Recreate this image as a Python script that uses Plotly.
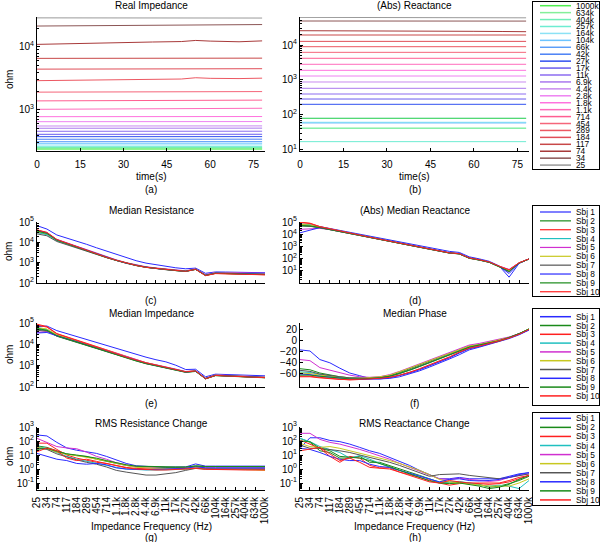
import plotly.graph_objects as go

W, H = 600, 542

# ---------------- data ----------------
time_s = [0, 10, 20, 30, 40, 50, 55, 60, 70, 78]
time_ticks = [0, 15, 30, 45, 60, 75]

freq_labels = ["25", "34", "74", "117", "184", "289", "454", "714", "1.1k", "1.8k",
               "2.8k", "4.4k", "6.9k", "11k", "17k", "27k", "42k", "66k", "104k",
               "164k", "257k", "404k", "634k", "1000k"]
freq_colors = ["#9a9a9a", "#8c5656", "#a83a3a", "#c84848", "#e04e58", "#ec5862",
               "#f5667a", "#ff5e92", "#ff6cbc", "#ff72de", "#ee82f2", "#c88af0",
               "#aa78ee", "#8c6cf0", "#6a5cee", "#3050f0", "#4a80f5", "#5c9ef8",
               "#6cc4ff", "#8ce2f5", "#6eecd2", "#70eeb8", "#84ef9a", "#50ee50"]

# (a) Real impedance over time, one list per frequency (ohm)
real_impedance = [
    [29000, 29000, 29000, 28900, 28900, 28900, 28900, 28800, 28800, 28800],
    [21500, 21600, 21700, 21800, 21900, 22200, 22600, 22500, 22400, 22700],
    [11000, 11300, 11600, 11900, 12000, 12200, 12700, 12400, 12100, 12500],
    [6600, 6600, 6620, 6620, 6630, 6640, 6650, 6640, 6640, 6650],
    [4450, 4460, 4470, 4470, 4480, 4490, 4500, 4500, 4510, 4520],
    [2920, 2960, 3000, 3040, 3060, 3100, 3250, 3180, 3150, 3200],
    [1920, 1925, 1930, 1935, 1940, 1945, 1950, 1950, 1955, 1960],
    [1395, 1400, 1405, 1410, 1412, 1420, 1430, 1428, 1430, 1435],
    [1025, 1030, 1035, 1040, 1045, 1050, 1065, 1060, 1058, 1065],
    [783, 783, 784, 784, 785, 785, 786, 786, 786, 787],
    [652, 652, 652, 653, 653, 653, 654, 654, 654, 655],
    [557, 557, 557, 557, 558, 558, 558, 558, 559, 559],
    [513, 513, 513, 513, 514, 514, 514, 514, 514, 515],
    [459, 459, 459, 459, 459, 460, 460, 460, 460, 460],
    [411, 411, 411, 411, 411, 412, 412, 412, 412, 412],
    [377, 377, 377, 377, 377, 377, 378, 378, 378, 378],
    [343, 343, 343, 343, 343, 343, 344, 344, 344, 344],
    [314, 314, 314, 314, 314, 314, 314, 315, 315, 315],
    [296, 296, 296, 296, 296, 296, 296, 296, 297, 297],
    [278, 278, 278, 278, 278, 278, 278, 278, 278, 279],
    [261, 261, 261, 261, 261, 261, 261, 261, 261, 262],
    [254, 254, 254, 254, 254, 254, 254, 254, 254, 254],
    [247, 247, 247, 247, 247, 247, 247, 247, 247, 247],
    [239, 239, 239, 239, 239, 239, 239, 239, 239, 239],
]

# (b) |Reactance| over time, one list per frequency (ohm)
abs_reactance = [
    [61500, 61400, 61300, 61100, 60900, 60700, 60500, 60300, 60000, 59800],
    [48500, 48500, 48400, 48400, 48400, 48300, 48300, 48300, 48200, 48200],
    [25600, 25600, 25500, 25400, 25200, 25000, 24800, 24600, 24300, 24000],
    [19300, 19300, 19300, 19300, 19300, 19300, 19300, 19300, 19300, 19300],
    [12700, 12700, 12700, 12700, 12700, 12700, 12700, 12700, 12700, 12700],
    [8940, 8940, 8940, 8940, 8940, 8940, 8940, 8940, 8940, 8940],
    [6170, 6170, 6170, 6170, 6170, 6170, 6170, 6170, 6170, 6170],
    [4170, 4170, 4170, 4170, 4170, 4170, 4170, 4170, 4170, 4170],
    [2810, 2810, 2810, 2810, 2810, 2810, 2810, 2810, 2810, 2810],
    [1890, 1890, 1890, 1890, 1890, 1890, 1890, 1890, 1890, 1890],
    [1300, 1300, 1300, 1300, 1300, 1300, 1300, 1300, 1300, 1300],
    [877, 877, 877, 877, 877, 877, 877, 877, 877, 877],
    [579, 579, 579, 579, 579, 579, 579, 579, 579, 579],
    [398, 398, 398, 398, 398, 398, 398, 398, 398, 398],
    [286, 286, 286, 286, 286, 286, 286, 286, 286, 286],
    [202, 202, 202, 202, 202, 202, 202, 202, 202, 202],
    [80, 80, 80, 80, 80, 80, 80, 80, 80, 80],
    [60, 60, 60, 60, 60, 60, 60, 60, 60, 60],
    [60, 60, 60, 60, 60, 60, 60, 60, 60, 60],
    [62, 62, 62, 62, 62, 62, 62, 62, 62, 62],
    [17.3, 17.3, 17.3, 17.3, 17.3, 17.3, 17.3, 17.3, 17.3, 17.3],
    [41.7, 41.7, 41.7, 41.7, 41.7, 41.7, 41.7, 41.7, 41.7, 41.7],
    [42, 42, 42, 42, 42, 42, 42, 42, 42, 42],
    [80.5, 80.5, 80.5, 80.5, 80.5, 80.5, 80.5, 80.5, 80.5, 80.5],
]

subjects = ["Sbj 1", "Sbj 2", "Sbj 3", "Sbj 4", "Sbj 5",
            "Sbj 6", "Sbj 7", "Sbj 8", "Sbj 9", "Sbj 10"]
subject_colors = ["#2a2aff", "#1a8a1a", "#ff2020", "#20c0c0", "#d030d0",
                  "#c8c820", "#555555", "#2a2aff", "#1a8a1a", "#ff2020"]

# (c) median resistance per subject (ohm) vs frequency
median_resistance = [
    [66000, 45000, 23000, 16500, 11500, 8000, 5400, 3700, 2500, 1700, 1250, 950, 780, 650, 560, 500, 540, 300, 350, 345, 340, 335, 330, 320],
    [32000, 25000, 12500, 8400, 5700, 3800, 2600, 1800, 1280, 930, 720, 585, 510, 445, 405, 370, 465, 235, 300, 292, 285, 278, 272, 262],
    [40000, 30000, 13500, 9000, 6000, 4000, 2650, 1820, 1300, 940, 730, 590, 515, 450, 410, 375, 470, 230, 295, 288, 280, 272, 265, 255],
    [30000, 24000, 12000, 8200, 5600, 3800, 2600, 1800, 1290, 950, 740, 600, 525, 460, 420, 385, 480, 245, 315, 308, 300, 293, 287, 275],
    [35000, 28000, 14000, 9400, 6300, 4200, 2850, 1950, 1380, 1000, 775, 630, 550, 480, 440, 400, 500, 260, 330, 325, 320, 315, 310, 300],
    [34000, 27000, 13000, 8800, 5900, 3950, 2700, 1850, 1320, 960, 745, 605, 530, 462, 422, 386, 482, 248, 312, 305, 298, 291, 285, 274],
    [26000, 21000, 11000, 7800, 5400, 3700, 2550, 1770, 1270, 930, 725, 590, 515, 450, 410, 375, 470, 240, 305, 298, 291, 284, 278, 266],
    [38000, 29000, 13200, 8900, 6000, 4000, 2700, 1860, 1320, 955, 740, 600, 525, 457, 417, 380, 479, 242, 310, 302, 295, 288, 282, 270],
    [36000, 27500, 12800, 8600, 5800, 3900, 2650, 1830, 1300, 945, 735, 595, 520, 452, 412, 377, 472, 238, 300, 293, 286, 279, 273, 262],
    [41000, 31000, 13800, 9100, 6100, 4050, 2700, 1850, 1310, 945, 732, 592, 518, 452, 412, 376, 468, 232, 290, 282, 275, 268, 262, 252],
]

# (d) |median reactance| per subject (ohm)
median_reactance = [
    [60000, 56000, 42000, 29000, 20000, 14000, 9800, 6700, 4700, 3300, 2300, 1580, 1100, 770, 540, 390, 320, 140, 95, 60, 25, 3, 40, 95],
    [50000, 46000, 34000, 24000, 16500, 11400, 7900, 5400, 3750, 2600, 1790, 1210, 835, 575, 400, 283, 240, 105, 75, 49, 21, 9, 42, 92],
    [98000, 80000, 42000, 27500, 18200, 12400, 8500, 5750, 3950, 2730, 1880, 1270, 880, 605, 420, 298, 254, 114, 80, 53, 24, 12, 45, 94],
    [70000, 60000, 38000, 26000, 17600, 12100, 8350, 5620, 3900, 2700, 1860, 1260, 870, 600, 417, 295, 251, 112, 79, 52, 23, 11, 44, 93],
    [25000, 26000, 30000, 24000, 17000, 12000, 8300, 5600, 3900, 2700, 1860, 1260, 870, 600, 417, 295, 251, 112, 80, 53, 24, 13, 45, 95],
    [64000, 56000, 37500, 25800, 17500, 12000, 8300, 5600, 3900, 2700, 1860, 1260, 870, 600, 417, 295, 251, 112, 79, 52, 23, 10, 44, 93],
    [48000, 44000, 34000, 24500, 16800, 11700, 8100, 5500, 3800, 2650, 1830, 1240, 855, 590, 410, 290, 247, 110, 77, 50, 22, 8, 43, 92],
    [13000, 22000, 35000, 26000, 17800, 12300, 8450, 5700, 3950, 2740, 1880, 1275, 880, 607, 422, 298, 254, 114, 80, 53, 24, 6, 42, 94],
    [52000, 47000, 35000, 24500, 16900, 11700, 8100, 5500, 3800, 2640, 1820, 1230, 850, 585, 407, 288, 245, 108, 77, 50, 22, 9, 43, 92],
    [90000, 75000, 41000, 27000, 18000, 12300, 8450, 5700, 3920, 2710, 1870, 1265, 875, 602, 418, 296, 252, 113, 80, 53, 24, 12, 45, 94],
]

# (e) median impedance magnitude per subject (ohm)
median_impedance = [
    [68000, 72000, 44000, 32000, 23500, 17000, 12300, 8800, 6300, 4450, 3300, 2500, 1900, 1510, 1050, 660, 680, 300, 400, 385, 370, 355, 345, 335],
    [52000, 44000, 24000, 17500, 12500, 9000, 6400, 4550, 3250, 2250, 1650, 1230, 980, 800, 620, 485, 535, 240, 340, 325, 310, 296, 283, 270],
    [88000, 68000, 32000, 22500, 15500, 10800, 7500, 5300, 3700, 2550, 1850, 1370, 1080, 870, 670, 520, 565, 245, 350, 333, 318, 303, 289, 276],
    [58000, 50000, 27000, 19500, 13800, 9800, 6950, 4930, 3500, 2420, 1760, 1310, 1040, 845, 657, 512, 560, 252, 357, 341, 326, 311, 297, 284],
    [36000, 40000, 26000, 19800, 14200, 10200, 7300, 5200, 3700, 2560, 1860, 1380, 1100, 890, 690, 535, 585, 262, 370, 354, 338, 322, 308, 294],
    [62000, 52000, 28500, 20500, 14500, 10300, 7250, 5130, 3630, 2500, 1820, 1350, 1070, 865, 670, 520, 570, 255, 360, 344, 329, 314, 300, 287],
    [45000, 42000, 24500, 18000, 13000, 9300, 6600, 4700, 3350, 2320, 1700, 1260, 1010, 820, 640, 500, 550, 248, 352, 336, 321, 306, 292, 279],
    [34000, 36000, 25000, 19000, 13600, 9700, 6900, 4900, 3480, 2400, 1750, 1300, 1030, 840, 652, 508, 555, 250, 354, 338, 323, 308, 294, 281],
    [55000, 46000, 25500, 18500, 13200, 9400, 6650, 4720, 3360, 2330, 1700, 1265, 1010, 820, 640, 500, 550, 246, 345, 330, 315, 300, 287, 274],
    [80000, 64000, 31000, 22000, 15200, 10600, 7400, 5220, 3660, 2520, 1830, 1355, 1070, 862, 665, 516, 562, 244, 348, 332, 316, 301, 287, 274],
]

# (f) median phase per subject (degrees)
median_phase = [
    [-17, -19, -35, -41, -51, -60, -65, -70, -71, -70, -67, -62, -56, -49, -42, -34, -26, -17, -12, -7, -2, 4, 11, 20],
    [-52, -54, -60, -64, -67, -69, -70, -70, -68, -65, -59, -52, -45, -38, -31, -24, -16, -10, -7, -3, 1, 6, 13, 22],
    [-66, -66, -68, -70, -72, -73, -72, -71, -70, -68, -64, -59, -53, -46, -39, -31, -22, -14, -10, -6, -1, 5, 12, 21],
    [-58, -59, -63, -66, -68, -69, -70, -70, -68, -66, -61, -55, -48, -41, -34, -27, -19, -12, -8, -4, 0, 6, 13, 22],
    [-35, -37, -50, -55, -60, -64, -67, -68, -67, -63, -57, -50, -42, -35, -28, -21, -14, -8, -5, -1, 2, 7, 13, 21],
    [-60, -61, -64, -66, -68, -69, -70, -69, -67, -64, -58, -51, -44, -37, -30, -23, -16, -10, -7, -3, 1, 6, 13, 22],
    [-55, -57, -62, -65, -67, -69, -70, -70, -69, -66, -61, -54, -47, -40, -33, -26, -18, -12, -8, -4, 0, 6, 13, 21],
    [-62, -63, -66, -68, -70, -71, -72, -72, -71, -69, -65, -60, -54, -47, -40, -32, -23, -15, -11, -6, -1, 5, 12, 20],
    [-64, -64, -66, -68, -70, -71, -71, -70, -69, -66, -61, -55, -48, -41, -34, -27, -19, -12, -8, -4, 0, 6, 13, 22],
    [-67, -67, -69, -71, -72, -72, -72, -71, -70, -68, -64, -59, -52, -45, -38, -30, -21, -14, -10, -5, -1, 5, 12, 21],
]

# (g) RMS resistance change per subject (ohm)
rms_resistance_change = [
    [270, 230, 80, 32, 22, 18, 13, 8, 4.5, 2.5, 1.7, 1.5, 1.4, 1.35, 1.35, 1.4, 2.3, 1.6, 1.6, 1.6, 1.6, 1.6, 1.6, 1.6],
    [45, 35, 20, 12, 9, 8, 5, 3.5, 2.4, 1.8, 1.5, 1.4, 1.35, 1.3, 1.3, 1.3, 1.7, 1.5, 1.5, 1.45, 1.45, 1.4, 1.4, 1.4],
    [70, 70, 25, 10, 6, 4, 3, 2.5, 1.8, 1.3, 1.1, 1.0, 1.0, 0.95, 1.0, 1.05, 1.3, 1.1, 1.0, 1.0, 0.95, 0.95, 0.9, 0.9],
    [40, 30, 15, 8, 5, 3.5, 2.5, 1.8, 1.3, 1.0, 0.9, 0.85, 0.85, 0.85, 0.9, 0.95, 1.2, 1.0, 1.0, 1.0, 1.0, 1.0, 1.0, 1.0],
    [155, 80, 40, 32, 28, 16, 8, 5, 2.8, 2.0, 1.4, 1.2, 1.1, 1.1, 1.1, 1.15, 1.4, 1.2, 1.2, 1.2, 1.2, 1.2, 1.15, 1.15],
    [35, 28, 16, 11, 9, 7, 5, 3.8, 2.5, 1.7, 1.3, 1.2, 1.1, 1.0, 1.0, 1.0, 1.2, 1.0, 1.0, 0.95, 0.9, 0.9, 0.85, 0.8],
    [32, 25, 12, 7, 4.5, 3, 2.2, 1.4, 0.8, 0.6, 0.45, 0.37, 0.37, 0.45, 0.55, 0.8, 1.1, 1.0, 1.0, 1.0, 1.0, 1.0, 1.0, 1.0],
    [13, 8, 5, 4, 2.5, 2.2, 2.5, 2.0, 1.2, 1.0, 0.9, 0.9, 0.95, 1.0, 1.05, 1.1, 1.5, 1.2, 1.2, 1.2, 1.2, 1.2, 1.2, 1.2],
    [25, 30, 18, 12, 10, 8, 6, 4, 2.8, 2.0, 1.6, 1.5, 1.45, 1.4, 1.4, 1.4, 1.6, 1.5, 1.5, 1.5, 1.5, 1.5, 1.5, 1.5],
    [17, 32, 20, 6, 4, 5, 3.5, 2.5, 1.6, 1.2, 1.0, 0.9, 0.85, 0.85, 0.9, 0.95, 1.1, 0.95, 0.9, 0.9, 0.9, 0.85, 0.85, 0.85],
]

# (h) RMS reactance change per subject (ohm)
rms_reactance_change = [
    [30, 170, 170, 110, 90, 60, 35, 20, 13, 7, 3.3, 1.8, 0.8, 0.4, 0.2, 0.2, 0.25, 0.2, 0.2, 0.18, 0.2, 0.3, 0.45, 0.55],
    [155, 80, 20, 15, 6, 6, 8, 3, 3, 1.8, 1.0, 0.6, 0.35, 0.2, 0.11, 0.1, 0.11, 0.1, 0.08, 0.05, 0.06, 0.09, 0.15, 0.3],
    [117, 60, 30, 8, 3, 8, 6, 1.8, 1.2, 1.2, 0.6, 0.4, 0.25, 0.15, 0.1, 0.07, 0.09, 0.1, 0.09, 0.08, 0.09, 0.12, 0.2, 0.35],
    [155, 90, 40, 25, 15, 6, 9, 5, 2.5, 1.3, 0.8, 0.5, 0.3, 0.18, 0.12, 0.12, 0.13, 0.1, 0.07, 0.06, 0.07, 0.06, 0.04, 0.15],
    [355, 355, 130, 80, 60, 40, 25, 15, 9, 5, 2.5, 1.3, 0.7, 0.35, 0.2, 0.18, 0.22, 0.18, 0.15, 0.13, 0.15, 0.25, 0.35, 0.45],
    [68, 40, 35, 40, 30, 20, 15, 10, 6, 4, 2.5, 1.5, 0.8, 0.4, 0.18, 0.12, 0.1, 0.08, 0.07, 0.06, 0.06, 0.06, 0.1, 0.2],
    [50, 30, 30, 25, 20, 15, 10, 7, 5, 3, 1.8, 1.0, 0.5, 0.3, 0.4, 0.4, 0.45, 0.35, 0.3, 0.25, 0.2, 0.25, 0.35, 0.45],
    [30, 25, 15, 8, 5, 4, 4, 2.2, 1.5, 1.3, 0.8, 0.5, 0.3, 0.2, 0.12, 0.18, 0.2, 0.15, 0.14, 0.15, 0.18, 0.25, 0.4, 0.55],
    [100, 90, 30, 20, 8, 7, 6, 4, 2.5, 1.5, 0.8, 0.45, 0.25, 0.14, 0.1, 0.09, 0.1, 0.08, 0.06, 0.04, 0.05, 0.08, 0.18, 0.35],
    [20, 25, 35, 12, 4, 6, 3, 1.3, 1.2, 1.0, 0.6, 0.35, 0.2, 0.12, 0.1, 0.15, 0.12, 0.1, 0.1, 0.1, 0.1, 0.15, 0.25, 0.35],
]

# ---------------- figure ----------------
FONT = "Liberation Sans, Arial, sans-serif"
fig = go.Figure()


def ax_names(i):
    return ("x" if i == 1 else f"x{i}", "y" if i == 1 else f"y{i}")


def lay_names(i):
    return ("xaxis" if i == 1 else f"xaxis{i}", "yaxis" if i == 1 else f"yaxis{i}")


def dom(x0, x1, y0, y1):
    return [x0 / W, x1 / W], [1 - y1 / H, 1 - y0 / H]


base_axis = dict(showline=True, linecolor="black", linewidth=1, ticks="inside",
                 ticklen=3, tickcolor="black", showgrid=False, zeroline=False,
                 mirror=False, tickfont=dict(size=10, color="black", family=FONT),
                 fixedrange=True, automargin=False)


def pow_text(vals):
    out = []
    for v in vals:
        e = len(str(int(v))) - 1 if v >= 1 else -len(str(v).split(".")[1])
        out.append(f"10<sup>{e}</sup>")
    return out


def setup_panel(i, box, xkw, ykw):
    xd, yd = dom(*box)
    xa, ya = ax_names(i)
    lx, ly = lay_names(i)
    fig.layout[lx] = dict(base_axis, domain=xd, anchor=ya, **xkw)
    fig.layout[ly] = dict(base_axis, domain=yd, anchor=xa, **ykw)


minor_log = dict(ticks="inside", ticklen=2, tickcolor="black", showgrid=False, dtick="D1")

time_x = dict(range=[0, 79], tickmode="array", tickvals=time_ticks, ticklabelstandoff=4)


def freq_x(show_labels):
    d = dict(type="category", categoryorder="array", categoryarray=freq_labels,
             range=[0, len(freq_labels) - 1], tickmode="array", tickvals=freq_labels,
             ticktext=freq_labels, showticklabels=show_labels)
    if show_labels:
        d.update(tickangle=-90, ticklabelstandoff=2)
    return d


def log_y(rng, vals):
    return dict(type="log", range=rng, tickmode="array", tickvals=vals,
                ticktext=pow_text(vals), minor=minor_log)


LEFT = (37, 265)
RIGHT = (300, 529)

setup_panel(1, (LEFT[0], LEFT[1], 17, 151), time_x, log_y([2.349, 4.476], [1000, 10000]))
setup_panel(2, (RIGHT[0], RIGHT[1], 17, 151), time_x, log_y([0.971, 4.8], [10, 100, 1000, 10000]))
setup_panel(3, (LEFT[0], LEFT[1], 222, 283), freq_x(False), log_y([2, 5], [100, 1000, 10000, 100000]))
setup_panel(4, (RIGHT[0], RIGHT[1], 222, 283), freq_x(False), log_y([0, 5], [10, 100, 1000, 10000, 100000]))
setup_panel(5, (LEFT[0], LEFT[1], 323, 387), freq_x(False), log_y([2, 5], [100, 1000, 10000, 100000]))
setup_panel(6, (RIGHT[0], RIGHT[1], 323, 387), freq_x(False),
            dict(range=[-86, 33], tickmode="array", tickvals=[-60, -40, -20, 0, 20]))
setup_panel(7, (LEFT[0], LEFT[1], 427, 490), freq_x(True), log_y([-1.5, 3], [0.1, 1, 10, 100, 1000]))
setup_panel(8, (RIGHT[0], RIGHT[1], 427, 490), freq_x(True), log_y([-1.5, 3], [0.1, 1, 10, 100, 1000]))


def add_series(i, xs, ys_list, colors, width=1.0):
    xa, ya = ax_names(i)
    for ys, c in zip(ys_list, colors):
        fig.add_trace(go.Scatter(x=xs, y=ys, mode="lines", xaxis=xa, yaxis=ya,
                                 line=dict(color=c, width=width), showlegend=False,
                                 hoverinfo="skip"))


add_series(1, time_s, real_impedance, freq_colors)
add_series(2, time_s, abs_reactance, freq_colors)
add_series(3, freq_labels, median_resistance, subject_colors)
add_series(4, freq_labels, median_reactance, subject_colors)
add_series(5, freq_labels, median_impedance, subject_colors)
add_series(6, freq_labels, median_phase, subject_colors)
add_series(7, freq_labels, rms_resistance_change, subject_colors)
add_series(8, freq_labels, rms_reactance_change, subject_colors)


# ---------------- hand-made legends (small boxed axes) ----------------
def make_legend(i, box, first_px, step_px, names, colors, fsize, lw):
    x0, x1, y0, y1 = box
    xd, yd = dom(x0, x1, y0, y1)
    xa, ya = ax_names(i)
    lx, ly = lay_names(i)
    hpx = y1 - y0
    r0 = -(first_px - y0) / step_px
    r1 = r0 + hpx / step_px
    wpx = x1 - x0
    seg = [(540 - x0) / wpx, (571 - x0) / wpx]
    tx = (574.5 - x0) / wpx
    common = dict(showline=True, mirror=True, linecolor="black", linewidth=1,
                  showticklabels=False, ticks="", showgrid=False, zeroline=False,
                  fixedrange=True, automargin=False)
    fig.layout[lx] = dict(common, domain=xd, anchor=ya, range=[0, 1])
    fig.layout[ly] = dict(common, domain=yd, anchor=xa, range=[r1, r0])
    for k, (n, c) in enumerate(zip(names, colors)):
        fig.add_trace(go.Scatter(x=seg, y=[k, k], mode="lines", xaxis=xa, yaxis=ya,
                                 line=dict(color=c, width=lw), showlegend=False,
                                 hoverinfo="skip"))
        fig.add_annotation(text=n, x=tx, y=k, xref=xa, yref=ya, xanchor="left",
                           yanchor="middle", showarrow=False, borderpad=0,
                           font=dict(size=fsize, color="black", family=FONT))


make_legend(9, (533, 599, 2, 169), 5.7, 6.93, freq_labels[::-1], freq_colors[::-1], 8.3, 1.5)
make_legend(10, (533, 599, 206, 296), 212, 8.86, subjects, subject_colors, 8.3, 1.2)
make_legend(11, (533, 599, 309, 405), 316.7, 8.8, subjects, subject_colors, 8.3, 1.5)
make_legend(12, (533, 599, 413, 505), 418.3, 9.07, subjects, subject_colors, 8.3, 1.5)


# ---------------- text ----------------
def label(s, x, y, size=10, angle=0):
    fig.add_annotation(text=s, x=x / W, y=1 - y / H, xref="paper", yref="paper",
                       showarrow=False, textangle=angle, xanchor="center",
                       yanchor="middle", font=dict(size=size, color="black", family=FONT))


cl = (LEFT[0] + LEFT[1]) / 2
cr = (RIGHT[0] + RIGHT[1]) / 2
label("Real Impedance", cl, 6)
label("(Abs) Reactance", cr, 6)
label("time(s)", cl, 176)
label("time(s)", cr, 176)
label("(a)", cl, 189)
label("(b)", cr, 189)
label("Median Resistance", cl, 211)
label("(Abs) Median Reactance", cr, 211)
label("(c)", cl, 300)
label("(d)", cr, 300)
label("Median Impedance", cl, 313)
label("Median Phase", cr, 313)
label("(e)", cl, 403)
label("(f)", cr, 403)
label("RMS Resistance Change", cl, 423)
label("RMS Reactance Change", cr, 423)
label("Impedance Frequency (Hz)", cl, 526)
label("Impedance Frequency (Hz)", cr, 526)
label("(g)", cl, 537)
label("(h)", cr, 537)
for yy in (80, 252, 355, 457):
    label("ohm", 9, yy, angle=-90)

fig.update_layout(template="none", width=W, height=H, autosize=False,
                  margin=dict(l=0, r=0, t=0, b=0, pad=0),
                  paper_bgcolor="white", plot_bgcolor="white",
                  font=dict(family=FONT, size=10, color="black"),
                  showlegend=False)

fig.write_html("out.html",
               config={"displayModeBar": False, "staticPlot": True},
               post_script="document.body.style.margin='0';document.body.style.padding='0';"
                           "document.body.style.overflow='hidden';")
